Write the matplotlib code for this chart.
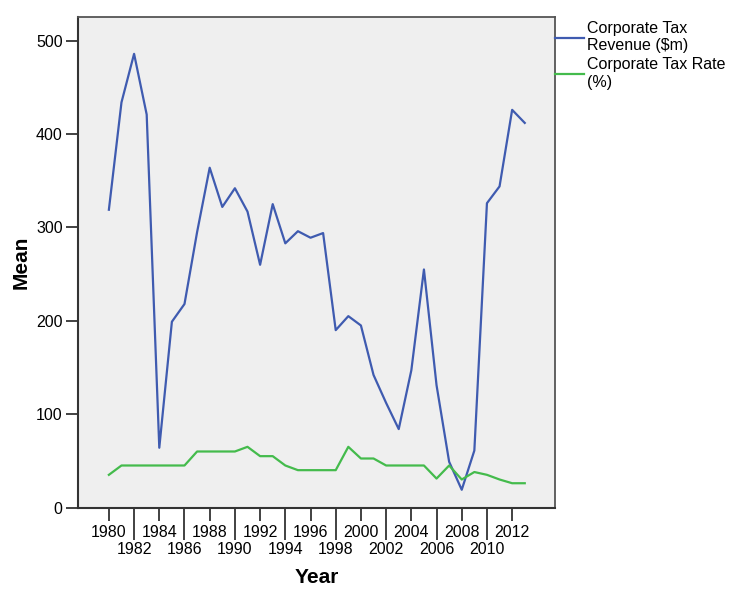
import numpy as np
import matplotlib
matplotlib.use("Agg")
import matplotlib.pyplot as plt
from matplotlib.ticker import FixedLocator

plt.rcParams['font.family'] = ['Liberation Sans', 'DejaVu Sans']

years = list(range(1980, 2014))
revenue = [319, 434, 486, 421, 64, 199, 218, 295, 364, 322,
           342, 317, 260, 325, 283, 296, 289, 294, 190, 205,
           195, 142, 112, 84, 147, 255, 131, 49, 19, 61,
           326, 344, 426, 412]
rate = [35, 45, 45, 45, 45, 45, 45, 60, 60, 60,
        60, 65, 55, 55, 45, 40, 40, 40, 40, 65,
        52.5, 52.5, 45, 45, 45, 45, 31, 45, 30, 38,
        35, 30, 26, 26]
series_names = ["Corporate Tax\nRevenue ($m)", "Corporate Tax Rate\n(%)"]
y_ticks = [0, 100, 200, 300, 400, 500]
top_row_years = list(range(1980, 2013, 4))
bottom_row_years = list(range(1982, 2013, 4))

fig = plt.figure(figsize=(7.3, 5.89), dpi=100)
ax = fig.add_axes([78 / 730, 1 - 507.5 / 589, 477 / 730, 491 / 589])
ax.set_facecolor('#efefef')

ax.plot(years, revenue, color='#3f5bb0', lw=1.6, label=series_names[0])
ax.plot(years, rate, color='#44bb4c', lw=1.6, label=series_names[1])

ax.set_xlim(1977.55, 2015.4)
ax.set_ylim(0, 526)
ax.set_yticks(y_ticks)

# two rows of year labels, alternate ticks long/short
ax.xaxis.set_major_locator(FixedLocator(top_row_years))
ax.xaxis.set_minor_locator(FixedLocator(bottom_row_years))
ax.set_xticklabels([str(y) for y in top_row_years])
ax.set_xticklabels([str(y) for y in bottom_row_years], minor=True)
ax.tick_params(axis='x', which='major', length=9, width=1.3, color='#333333',
               labelsize=11.5, pad=3.5)
ax.tick_params(axis='x', which='minor', length=23, width=1.3, color='#333333',
               labelsize=11.5, pad=1.5)
ax.tick_params(axis='y', length=9, width=1.3, color='#333333', labelsize=11.5, pad=2)

for side in ['left', 'bottom']:
    ax.spines[side].set_color('#333333')
    ax.spines[side].set_linewidth(1.5)
for side in ['top', 'right']:
    ax.spines[side].set_color('#555555')
    ax.spines[side].set_linewidth(1.3)

ax.set_xlabel('Year', fontsize=15, fontweight='bold', labelpad=8)
ax.set_ylabel('Mean', fontsize=15, fontweight='bold', labelpad=4)

fig.legend(loc='upper left', bbox_to_anchor=(555 / 730, 1 - 21 / 589),
           bbox_transform=fig.transFigure, frameon=False, fontsize=11.5,
           borderpad=0, borderaxespad=0, handlelength=1.8, handletextpad=0.2,
           labelspacing=0.25)

fig.savefig('out.png', dpi=100)
